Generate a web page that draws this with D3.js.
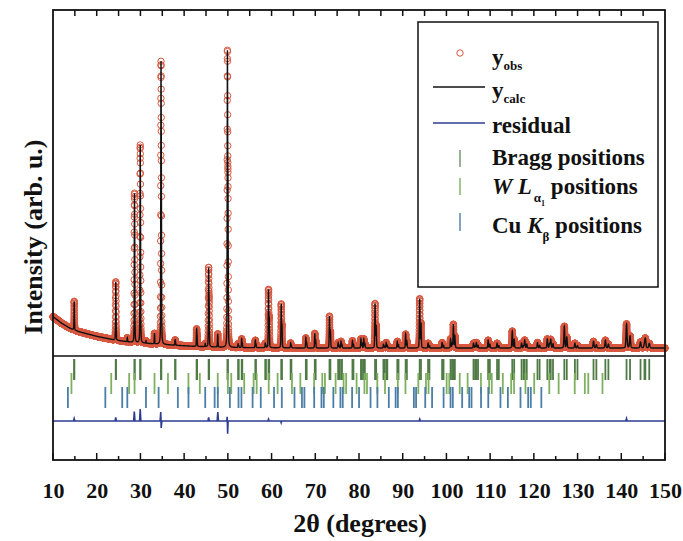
<!DOCTYPE html>
<html>
<head>
<meta charset="utf-8">
<script src="https://cdn.jsdelivr.net/npm/d3@7"></script>
<style>
  body { margin: 0; background: #fff; }
  svg { display: block; }
  text { font-family: "Liberation Serif", "Times New Roman", serif; font-weight: bold; fill: #111; }
</style>
</head>
<body>
<div id="chart"></div>
<script>
// ===== DATA =====
// background level (arb. u.) at a few angles
const bgAngle = [10, 12, 14, 16, 20, 24, 28, 35, 42, 50, 70, 150];
const bgLevel = [117, 95, 78, 67, 52, 40, 32, 25, 19, 15, 13, 13];

// main phase reflections (Cu K-alpha1) and their net heights
const braggPos = [14.84, 24.35, 28.63, 29.94, 34.70, 37.93, 42.85, 45.60, 49.90, 52.35,
  53.16, 56.28, 58.55, 59.30, 62.21, 64.36, 67.84, 69.89, 73.25, 75.23,
  75.89, 78.50, 80.45, 81.10, 83.67, 85.59, 86.22, 88.76, 90.67, 93.88,
  95.80, 99.01, 100.95, 101.59, 106.19, 106.85, 109.54, 111.58, 115.06, 117.19,
  117.91, 120.83, 123.08, 123.86, 126.97, 129.39, 133.65, 136.36, 141.20, 144.40, 145.50];
const braggInt = [69, 153, 407, 562, 829, 16, 54, 248, 938, 12,
  28, 24, 14, 188, 142, 16, 33, 48, 104, 18,
  22, 24, 30, 30, 146, 12, 18, 22, 46, 162,
  16, 18, 30, 78, 16, 18, 26, 16, 56, 16,
  26, 18, 30, 28, 72, 16, 22, 26, 80, 20, 30];
// matching K-alpha2 positions
const braggPosK2 = [14.88, 24.41, 28.70, 30.02, 34.79, 38.03, 42.96, 45.72, 50.03, 52.49,
  53.30, 56.43, 58.71, 59.46, 62.38, 64.54, 68.03, 70.09, 73.46, 75.45,
  76.11, 78.73, 80.69, 81.34, 83.92, 85.85, 86.48, 89.04, 90.95, 94.18,
  96.11, 99.34, 101.29, 101.93, 106.56, 107.23, 109.94, 111.99, 115.50, 117.65,
  118.38, 121.32, 123.60, 124.38, 127.53, 129.98, 134.30, 137.05, 142.00, 145.30, 146.40];

// W L-alpha1 positions
const wlaPos = [14.22, 23.32, 27.42, 28.66, 33.22, 36.30, 40.98, 43.59, 47.69, 50.01,
  50.78, 53.74, 55.89, 56.59, 59.35, 61.38, 64.66, 66.58, 69.73, 71.60,
  72.21, 74.65, 76.47, 77.06, 79.45, 81.24, 81.83, 84.19, 85.95, 88.88,
  90.63, 93.57, 95.32, 95.91, 100.05, 100.65, 103.04, 104.85, 107.90, 109.76,
  110.37, 112.90, 114.81, 115.46, 118.08, 120.08, 123.53, 125.67, 129.35, 131.66,
  132.45, 135.70];

// Cu K-beta positions
const cukbPos = [13.41, 21.97, 25.83, 27.00, 31.27, 34.16, 38.56, 40.99, 44.82, 46.98,
  47.70, 50.46, 52.44, 53.11, 55.66, 57.53, 60.56, 62.34, 65.24, 66.95,
  67.51, 69.75, 71.41, 71.95, 74.13, 75.75, 76.28, 78.42, 80.01, 82.64,
  84.21, 86.82, 88.38, 88.89, 92.55, 93.06, 95.15, 96.72, 99.35, 100.94,
  101.46, 103.60, 105.21, 105.74, 107.92, 109.57, 112.36, 114.06, 116.94, 118.70,
  119.30, 121.71];

// small impurity-wavelength peaks seen in the profile
const impurityPos = [27.00, 31.27, 33.22, 44.82, 47.69];
const impurityInt = [13, 8, 35, 10, 44];

// difference curve (obs - calc)
const residAngle = [10, 14.7, 14.84, 15.0, 24.2, 24.35, 24.5, 28.45, 28.6, 28.75,
  29.8, 29.95, 30.1, 34.5, 34.65, 34.75, 34.9, 45.45, 45.6, 45.75,
  47.55, 47.7, 47.85, 49.75, 49.85, 49.95, 50.05, 59.15, 59.3, 59.45,
  62.1, 62.2, 62.3, 93.75, 93.9, 94.05, 141.05, 141.2, 141.35, 150];
const residValue = [0, 0, 8, 0, 0, 12, 0, 0, 31, 0,
  0, 40, 0, 0, 30, -23, 0, 0, 12, 0,
  0, 30, 0, 0, 14, -42, 0, 0, 6, 0,
  0, -5, 0, 0, 6, 0, 0, 8, 0, 0];

const xTickValues = [10, 20, 30, 40, 50, 60, 70, 80, 90, 100, 110, 120, 130, 140, 150];

// ===== LAYOUT =====
const width = 683, height = 541;
const plotL = 53, plotR = 665, plotT = 10, plotB = 460;
const sepY = 356;

const x = d3.scaleLinear().domain([10, 150]).range([plotL, plotR]);
const y = d3.scaleLinear().domain([0, 1000]).range([352, 50]);
const yRes = d3.scaleLinear().domain([-100, 100]).range([421 + 30.2, 421 - 30.2]);
const bg = d3.scaleLinear().domain(bgAngle).range(bgLevel).clamp(true);

// peak shape (pseudo-Voigt), width grows with angle
function fwhm(t) { return 0.10 + 0.06 * Math.tan(t * Math.PI / 360); }
function pv(dt, h) {
    const q = (dt * dt) / (h * h);
    return 0.7 * Math.exp(-4 * Math.LN2 * q) + 0.3 / (1 + 4 * q);
}
function calc(t) {
    let v = bg(t);
    const h = fwhm(t);
    braggPos.forEach((p, i) => {
        if (Math.abs(t - p) < 3) v += braggInt[i] * pv(t - p, h);
        const p2 = braggPosK2[i];
        if (Math.abs(t - p2) < 3) v += 0.5 * braggInt[i] * pv(t - p2, h);
    });
    impurityPos.forEach((p, i) => {
        if (Math.abs(t - p) < 3) v += impurityInt[i] * pv(t - p, h);
    });
    return v;
}

const angles = d3.range(10, 150.0001, 0.01);
const profile = angles.map(t => ({ t: t, v: calc(t) }));

const svg = d3.select('#chart').append('svg')
    .attr('width', width)
    .attr('height', height);

// observed points
svg.append('g')
    .selectAll('circle')
    .data(profile)
    .enter().append('circle')
    .attr('cx', d => x(d.t))
    .attr('cy', d => y(d.v))
    .attr('r', 3.2)
    .attr('fill', 'none')
    .attr('stroke', '#d9573f')
    .attr('stroke-width', 1);

// calculated line
svg.append('path')
    .datum(profile)
    .attr('fill', 'none')
    .attr('stroke', '#111')
    .attr('stroke-width', 1.4)
    .attr('d', d3.line().x(d => x(d.t)).y(d => y(d.v)));

// Bragg tick rows
const tickRows = [
    { pos: braggPos.concat(braggPosK2), y0: 359, y1: 380, color: '#4f7a45' },
    { pos: wlaPos, y0: 373, y1: 394, color: '#7fb060' },
    { pos: cukbPos, y0: 387, y1: 408, color: '#4b7ea6' }
];
tickRows.forEach(row => {
    svg.append('g')
        .selectAll('line')
        .data(row.pos)
        .enter().append('line')
        .attr('x1', d => x(d)).attr('x2', d => x(d))
        .attr('y1', row.y0).attr('y2', row.y1)
        .attr('stroke', row.color)
        .attr('stroke-width', 1.8);
});

// residual
const resid = residAngle.map((t, i) => ({ t: t, v: residValue[i] }));
svg.append('path')
    .datum(resid)
    .attr('fill', 'none')
    .attr('stroke', '#2d3d92')
    .attr('stroke-width', 1.6)
    .attr('d', d3.line().x(d => x(d.t)).y(d => yRes(d.v)));

// frame and separator
svg.append('rect')
    .attr('x', plotL).attr('y', plotT)
    .attr('width', plotR - plotL).attr('height', plotB - plotT)
    .attr('fill', 'none').attr('stroke', '#111').attr('stroke-width', 1.8);
svg.append('line')
    .attr('x1', plotL).attr('x2', plotR)
    .attr('y1', sepY).attr('y2', sepY)
    .attr('stroke', '#111').attr('stroke-width', 1.6);

// bottom axis: inward ticks, labels
const xAxis = d3.axisBottom(x)
    .tickValues(xTickValues)
    .tickSize(0)
    .tickPadding(0)
    .tickFormat(d3.format('d'));
const gx = svg.append('g').attr('transform', `translate(0,${plotB})`).call(xAxis);
gx.select('.domain').remove();
gx.selectAll('text')
    .attr('y', 38)
    .attr('dy', null)
    .style('font-size', '22px')
    .style('font-family', '"Liberation Serif", serif')
    .style('font-weight', 'bold')
    .attr('fill', '#111');

const minorTicks = d3.range(15, 150, 10);
svg.append('g').selectAll('line')
    .data(xTickValues)
    .enter().append('line')
    .attr('x1', d => x(d)).attr('x2', d => x(d))
    .attr('y1', plotB).attr('y2', plotB - 7)
    .attr('stroke', '#111').attr('stroke-width', 1.5);
svg.append('g').selectAll('line')
    .data(minorTicks)
    .enter().append('line')
    .attr('x1', d => x(d)).attr('x2', d => x(d))
    .attr('y1', plotB).attr('y2', plotB - 4)
    .attr('stroke', '#111').attr('stroke-width', 1.5);
// top ticks every 5 degrees
svg.append('g').selectAll('line')
    .data(d3.range(15, 150, 5))
    .enter().append('line')
    .attr('x1', d => x(d)).attr('x2', d => x(d))
    .attr('y1', plotT).attr('y2', plotT + 6)
    .attr('stroke', '#111').attr('stroke-width', 1.5);

// axis titles
svg.append('text')
    .attr('x', (plotL + plotR) / 2 + 1).attr('y', 532)
    .attr('text-anchor', 'middle')
    .style('font-size', '26px')
    .text('2θ (degrees)');
svg.append('text')
    .attr('transform', 'translate(42,237) rotate(-90)')
    .attr('text-anchor', 'middle')
    .style('font-size', '26px')
    .text('Intensity (arb. u.)');

// ===== LEGEND =====
const lg = svg.append('g');
lg.append('rect')
    .attr('x', 418).attr('y', 22).attr('width', 240).attr('height', 265)
    .attr('fill', '#fff').attr('stroke', '#111').attr('stroke-width', 1.5);

const tx = 492;
lg.append('circle').attr('cx', 460).attr('cy', 53).attr('r', 3.2)
    .attr('fill', 'none').attr('stroke', '#d9573f').attr('stroke-width', 1);
lg.append('line').attr('x1', 433).attr('x2', 485).attr('y1', 87).attr('y2', 87)
    .attr('stroke', '#111').attr('stroke-width', 1.4);
lg.append('line').attr('x1', 433).attr('x2', 485).attr('y1', 123).attr('y2', 123)
    .attr('stroke', '#2d3d92').attr('stroke-width', 1.5);
[[150, 167, '#6f8f6a'], [178, 195, '#7fb060'], [213, 231, '#4b7ea6']].forEach(r => {
    lg.append('line').attr('x1', 460).attr('x2', 460).attr('y1', r[0]).attr('y2', r[1])
        .attr('stroke', r[2]).attr('stroke-width', 1.4);
});

function subLabel(yy, main, sub) {
    const t = lg.append('text').attr('x', tx).attr('y', yy).style('font-size', '23px');
    t.append('tspan').text(main);
    t.append('tspan').attr('dy', 5).style('font-size', '13px').text(sub);
}
subLabel(65, 'y', 'obs');
subLabel(98, 'y', 'calc');
lg.append('text').attr('x', tx).attr('y', 133).style('font-size', '23px').text('residual');
lg.append('text').attr('x', tx).attr('y', 165).style('font-size', '23px').text('Bragg positions');

const w = lg.append('text').attr('x', tx).attr('y', 194).style('font-size', '23px');
w.append('tspan').style('font-style', 'italic').text('W L');
w.append('tspan').attr('dx', 2).attr('dy', 8).style('font-size', '13px').text('α');
w.append('tspan').attr('dy', 4).style('font-size', '8px').text('1');
w.append('tspan').attr('dy', -12).text(' positions');

const c = lg.append('text').attr('x', tx).attr('y', 233).style('font-size', '23px');
c.append('tspan').text('Cu ');
c.append('tspan').style('font-style', 'italic').text('K');
c.append('tspan').attr('dy', 8).style('font-size', '13px').text('β');
c.append('tspan').attr('dy', -8).text(' positions');
</script>
</body>
</html>
